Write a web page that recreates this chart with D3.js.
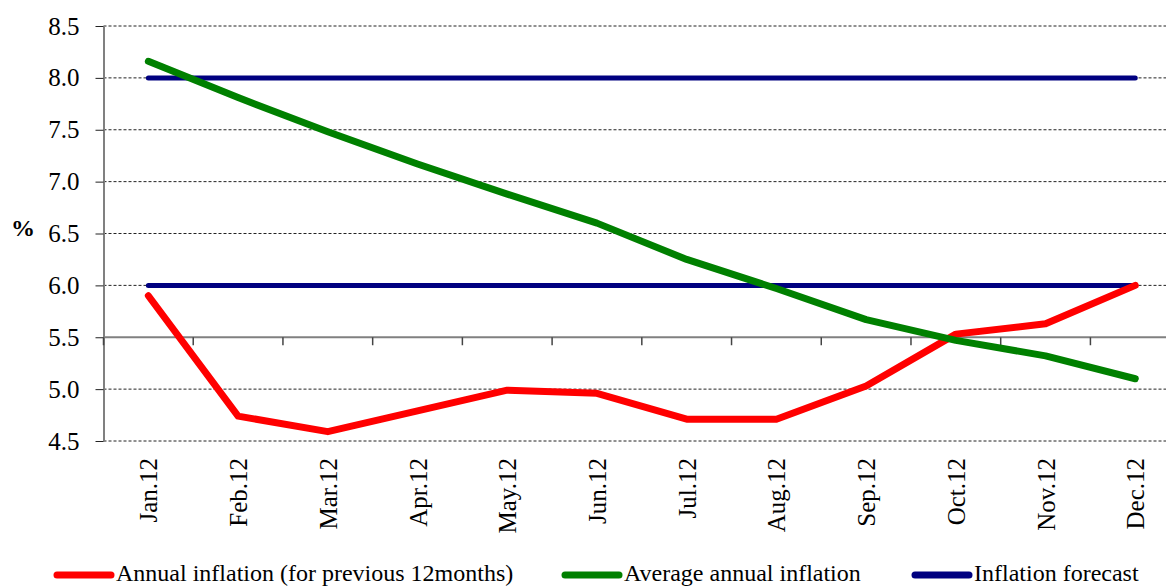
<!DOCTYPE html>
<html>
<head>
<meta charset="utf-8">
<script src="https://cdn.jsdelivr.net/npm/d3@7"></script>
<style>
  html, body { margin: 0; padding: 0; background: #fff; overflow: hidden; }
  svg { display: block; }
  svg text { font-family: "Liberation Serif", "Times New Roman", serif; }
</style>
</head>
<body>
<svg id="chart" width="1166" height="586"></svg>
<script>
// Months of 2012
const months = ["Jan.12", "Feb.12", "Mar.12", "Apr.12", "May.12", "Jun.12",
                "Jul.12", "Aug.12", "Sep.12", "Oct.12", "Nov.12", "Dec.12"];

// Annual inflation (for previous 12 months), %
const annualInflation = [5.90, 4.74, 4.59, 4.79, 4.99, 4.96, 4.71, 4.71, 5.03, 5.53, 5.63, 6.00];

// Average annual inflation, %
const averageInflation = [8.16, 7.81, 7.48, 7.17, 6.88, 6.60, 6.25, 5.97, 5.67, 5.47, 5.32, 5.10];

// Inflation forecast corridor: upper and lower bounds, %
const forecastUpper = [8.0, 8.0, 8.0, 8.0, 8.0, 8.0, 8.0, 8.0, 8.0, 8.0, 8.0, 8.0];
const forecastLower = [6.0, 6.0, 6.0, 6.0, 6.0, 6.0, 6.0, 6.0, 6.0, 6.0, 6.0, 6.0];

// Value axis ticks
const yTicks = [4.5, 5.0, 5.5, 6.0, 6.5, 7.0, 7.5, 8.0, 8.5];
const yAxisCross = 5.5;

const legendItems = [
  { label: "Annual inflation (for previous 12months)", color: "#ff0000" },
  { label: "Average annual inflation", color: "#008000" },
  { label: "Inflation forecast", color: "#000080" }
];

const FONT = "'Liberation Serif', 'Times New Roman', serif";
const svg = d3.select("#chart");

const plotLeft = 103.5;
const step = 89.72;
const x = d3.scaleBand().domain(months).range([plotLeft, plotLeft + step * months.length]).padding(0);
const y = d3.scaleLinear().domain([4.5, 8.5]).range([441, 26]);
const xc = m => x(m) + x.bandwidth() / 2;
const plotRight = 1166;

// Dashed horizontal gridlines
svg.append("g")
  .selectAll("line")
  .data(yTicks.filter(v => v !== yAxisCross))
  .join("line")
  .attr("x1", plotLeft)
  .attr("x2", plotRight)
  .attr("y1", d => y(d))
  .attr("y2", d => y(d))
  .attr("stroke", "#222")
  .attr("stroke-width", 1)
  .attr("stroke-dasharray", "3,2");

// Value axis
const yAxis = svg.append("g")
  .attr("transform", `translate(${plotLeft},0)`)
  .call(d3.axisLeft(y).tickValues(yTicks).tickFormat(d3.format(".1f")).tickSize(8).tickPadding(16).tickSizeOuter(0))
  .attr("font-family", FONT)
  .attr("font-size", 25);
yAxis.select(".domain").attr("stroke", "#808080").attr("stroke-width", 2);
yAxis.selectAll(".tick line").attr("stroke", "#222").attr("stroke-width", 1);
yAxis.selectAll(".tick text").attr("fill", "#000");

// Category axis line crossing at 5.5, with ticks on category boundaries
const xAxisY = y(yAxisCross);
svg.append("line")
  .attr("x1", plotLeft)
  .attr("x2", plotRight)
  .attr("y1", xAxisY)
  .attr("y2", xAxisY)
  .attr("stroke", "#808080")
  .attr("stroke-width", 2);
svg.append("g")
  .selectAll("line")
  .data(months)
  .join("line")
  .attr("x1", d => x(d))
  .attr("x2", d => x(d))
  .attr("y1", xAxisY)
  .attr("y2", xAxisY + 8)
  .attr("stroke", "#444")
  .attr("stroke-width", 1.5);

// Category labels, rotated, below the plot
const xAxis = svg.append("g")
  .attr("transform", "translate(0,458)")
  .call(d3.axisBottom(x).tickSize(0).tickPadding(0))
  .attr("font-family", FONT)
  .attr("font-size", 25);
xAxis.select(".domain").remove();
xAxis.selectAll(".tick text")
  .attr("transform", "rotate(-90)")
  .attr("text-anchor", "end")
  .attr("x", 0)
  .attr("y", 0)
  .attr("dy", "0.36em")
  .attr("fill", "#000");

// Axis title
svg.append("text")
  .attr("x", 11)
  .attr("y", 236)
  .attr("font-family", FONT)
  .attr("font-size", 24)
  .attr("font-weight", "bold")
  .text("%");

// Series lines
const line = d3.line().x((d, i) => xc(months[i])).y(d => y(d));
const series = [
  { values: forecastUpper, color: "#000080", width: 5 },
  { values: forecastLower, color: "#000080", width: 5 },
  { values: annualInflation, color: "#ff0000", width: 7 },
  { values: averageInflation, color: "#008000", width: 7 }
];
svg.append("g")
  .selectAll("path")
  .data(series)
  .join("path")
  .attr("d", d => line(d.values))
  .attr("fill", "none")
  .attr("stroke", d => d.color)
  .attr("stroke-width", d => d.width)
  .attr("stroke-linecap", "round")
  .attr("stroke-linejoin", "round");

// Legend
const legendX = [57, 565, 915];
const legend = svg.append("g").attr("transform", "translate(0,575)");
const items = legend.selectAll("g")
  .data(legendItems)
  .join("g")
  .attr("transform", (d, i) => `translate(${legendX[i]},0)`);
items.append("line")
  .attr("x1", 0)
  .attr("x2", 54)
  .attr("y1", 0)
  .attr("y2", 0)
  .attr("stroke", d => d.color)
  .attr("stroke-width", 7)
  .attr("stroke-linecap", "round");
items.append("text")
  .attr("x", 59)
  .attr("y", 5.5)
  .attr("font-family", FONT)
  .attr("font-size", 24)
  .attr("fill", "#000")
  .text(d => d.label);
</script>
</body>
</html>
